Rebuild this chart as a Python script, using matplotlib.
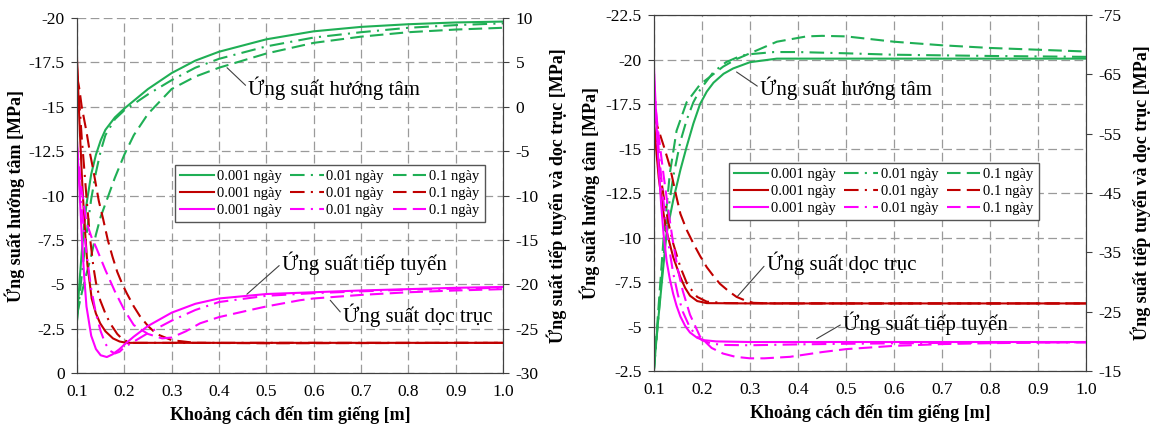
import matplotlib
matplotlib.use("Agg")
import matplotlib.pyplot as plt
from matplotlib.ticker import MultipleLocator, FormatStrFormatter

plt.rcParams['font.family'] = ['Liberation Serif', 'DejaVu Serif']
plt.rcParams['axes.unicode_minus'] = False

# ---------------- data (left panel) ----------------
# radial stress (left axis), green
L_rad_x1 = [0.1, 0.105, 0.11, 0.115, 0.12, 0.13, 0.14, 0.15, 0.16, 0.18, 0.2, 0.25, 0.3, 0.35, 0.4, 0.5, 0.6, 0.7, 0.8, 0.9, 1.0]
L_rad_y1 = [-3.0, -5.0, -6.8, -8.3, -9.5, -11.2, -12.3, -13.1, -13.7, -14.4, -14.9, -16.0, -16.9, -17.6, -18.1, -18.8, -19.25, -19.5, -19.65, -19.75, -19.8]
L_rad_x2 = [0.1, 0.11, 0.12, 0.13, 0.14, 0.15, 0.16, 0.18, 0.2, 0.25, 0.3, 0.35, 0.4, 0.5, 0.6, 0.7, 0.8, 0.9, 1.0]
L_rad_y2 = [-3.0, -5.5, -7.8, -9.8, -11.3, -12.5, -13.4, -14.3, -14.8, -15.7, -16.5, -17.2, -17.7, -18.4, -18.9, -19.2, -19.45, -19.6, -19.7]
L_rad_x3 = [0.1, 0.11, 0.12, 0.13, 0.14, 0.15, 0.163, 0.18, 0.2, 0.22, 0.25, 0.3, 0.35, 0.4, 0.5, 0.6, 0.7, 0.8, 0.9, 1.0]
L_rad_y3 = [-3.3, -4.5, -5.6, -6.6, -7.8, -8.8, -9.75, -11.0, -12.3, -13.4, -14.6, -16.0, -16.7, -17.2, -18.0, -18.6, -18.95, -19.2, -19.35, -19.45]

# axial stress (right axis), red
L_ax_x1 = [0.1, 0.105, 0.11, 0.113, 0.118, 0.122, 0.131, 0.14, 0.149, 0.16, 0.176, 0.19, 0.205, 0.3, 0.5, 0.7, 1.0]
L_ax_y1 = [5.5, -1.5, -7.5, -10.5, -14.8, -17.8, -21.6, -23.3, -24.4, -25.3, -26.1, -26.45, -26.6, -26.6, -26.6, -26.6, -26.6]
L_ax_x2 = [0.1, 0.105, 0.11, 0.115, 0.1205, 0.127, 0.1345, 0.14, 0.149, 0.16, 0.17, 0.185, 0.198, 0.218, 0.3, 0.5, 1.0]
L_ax_y2 = [4.5, 0.5, -3.5, -6.8, -10.5, -14.5, -18.0, -19.8, -21.8, -23.3, -24.4, -25.6, -26.3, -26.6, -26.6, -26.6, -26.6]
L_ax_x3 = [0.1, 0.105, 0.11, 0.12, 0.128, 0.134, 0.146, 0.155, 0.165, 0.175, 0.185, 0.195, 0.205, 0.22, 0.233, 0.25, 0.268, 0.3, 0.35, 0.5, 1.0]
L_ax_y3 = [3.5, 2.0, 0.0, -2.8, -5.4, -7.0, -10.6, -12.6, -15.0, -16.9, -18.6, -19.9, -21.0, -22.5, -23.6, -24.7, -25.6, -26.3, -26.6, -26.65, -26.6]

# tangential stress (right axis), magenta
L_tan_x1 = [0.1, 0.105, 0.11, 0.115, 0.12, 0.13, 0.14, 0.15, 0.163, 0.175, 0.19, 0.2, 0.22, 0.25, 0.3, 0.35, 0.4, 0.5, 0.6, 0.7, 0.8, 0.9, 1.0]
L_tan_y1 = [-3.9, -9.0, -14.5, -19.0, -22.5, -25.8, -27.3, -28.0, -28.2, -27.9, -27.3, -26.8, -25.9, -24.7, -23.2, -22.2, -21.6, -21.1, -20.9, -20.7, -20.55, -20.4, -20.3]
L_tan_x2 = [0.1, 0.11, 0.12, 0.13, 0.14, 0.15, 0.16, 0.17, 0.18, 0.19, 0.2, 0.25, 0.3, 0.35, 0.4, 0.5, 0.6, 0.7, 0.8, 0.9, 1.0]
L_tan_y2 = [-5.0, -11.5, -16.5, -20.5, -23.3, -25.3, -26.7, -27.5, -27.8, -27.6, -27.1, -25.5, -24.1, -22.9, -22.0, -21.3, -21.0, -20.8, -20.6, -20.5, -20.4]
L_tan_x3 = [0.1, 0.11, 0.12, 0.13, 0.14, 0.16, 0.18, 0.2, 0.22, 0.25, 0.28, 0.3, 0.33, 0.36, 0.4, 0.466, 0.5, 0.571, 0.6, 0.7, 0.8, 0.9, 1.0]
L_tan_y3 = [-4.5, -9.5, -13.0, -14.6, -15.8, -18.4, -20.8, -22.9, -24.6, -25.6, -26.1, -26.0, -25.3, -24.4, -23.7, -22.9, -22.5, -21.8, -21.6, -21.2, -20.9, -20.7, -20.55]

# ---------------- data (right panel) ----------------
R_rad_x1 = [0.1, 0.106, 0.116, 0.126, 0.14, 0.155, 0.168, 0.182, 0.196, 0.21, 0.224, 0.245, 0.265, 0.3, 0.356, 0.5, 0.7, 1.0]
R_rad_y1 = [-2.6, -4.6, -7.4, -10.2, -12.1, -13.8, -15.1, -16.4, -17.5, -18.2, -18.7, -19.2, -19.5, -19.85, -20.05, -20.05, -20.05, -20.05]
R_rad_x2 = [0.1, 0.11, 0.12, 0.13, 0.14, 0.155, 0.168, 0.182, 0.196, 0.224, 0.25, 0.28, 0.3, 0.35, 0.4, 0.5, 0.6, 0.8, 1.0]
R_rad_y2 = [-2.6, -5.8, -9.0, -11.6, -13.4, -15.4, -16.6, -17.6, -18.3, -19.3, -19.85, -20.2, -20.3, -20.42, -20.42, -20.35, -20.27, -20.2, -20.15]
R_rad_x3 = [0.1, 0.11, 0.12, 0.133, 0.147, 0.168, 0.196, 0.22, 0.244, 0.27, 0.3, 0.356, 0.418, 0.45, 0.5, 0.6, 0.7, 0.8, 0.9, 1.0]
R_rad_y3 = [-2.6, -6.3, -10.0, -13.6, -16.0, -17.6, -18.6, -19.1, -19.6, -20.0, -20.35, -21.0, -21.3, -21.33, -21.3, -21.0, -20.8, -20.65, -20.55, -20.45]

R_ax_x1 = [0.1, 0.105, 0.11, 0.12, 0.1264, 0.14, 0.154, 0.165, 0.175, 0.19, 0.21, 0.3, 0.5, 0.7, 1.0]
R_ax_y1 = [-57, -52, -47.5, -41.5, -38.5, -34.2, -31.0, -29.0, -27.7, -26.8, -26.45, -26.4, -26.4, -26.4, -26.4]
R_ax_x2 = [0.1, 0.11, 0.12, 0.13, 0.14, 0.155, 0.17, 0.19, 0.21, 0.25, 0.5, 1.0]
R_ax_y2 = [-56, -50, -44.5, -40, -36.5, -32.5, -29.5, -27.5, -26.7, -26.45, -26.4, -26.4]
R_ax_x3 = [0.1, 0.11, 0.12, 0.133, 0.145, 0.155, 0.168, 0.182, 0.196, 0.21, 0.225, 0.2375, 0.255, 0.272, 0.29, 0.307, 0.35, 1.0]
R_ax_y3 = [-58, -55.5, -53, -49.5, -45, -41.5, -38.8, -36.5, -34.4, -32.5, -30.9, -29.7, -28.5, -27.5, -26.9, -26.5, -26.4, -26.4]

R_tan_x1 = [0.1, 0.105, 0.11, 0.115, 0.12, 0.1264, 0.133, 0.14, 0.147, 0.155, 0.165, 0.175, 0.19, 0.205, 0.23, 0.3, 0.5, 0.7, 1.0]
R_tan_y1 = [-66, -57, -49, -43, -38, -33.5, -30.5, -28, -26, -24.2, -22.6, -21.5, -20.6, -20.2, -20.0, -19.9, -19.9, -19.9, -19.9]
R_tan_x2 = [0.1, 0.105, 0.11, 0.12, 0.13, 0.14, 0.15, 0.16, 0.175, 0.19, 0.2, 0.22, 0.25, 0.3, 0.4, 0.5, 0.7, 1.0]
R_tan_y2 = [-64, -58, -52, -43.5, -36.5, -31.5, -27.8, -25, -22.3, -20.8, -20.2, -19.6, -19.4, -19.35, -19.5, -19.6, -19.75, -19.85]
R_tan_x3 = [0.1, 0.105, 0.11, 0.12, 0.13, 0.14, 0.15, 0.16, 0.175, 0.196, 0.22, 0.244, 0.27, 0.3, 0.33, 0.383, 0.45, 0.5, 0.6, 0.7, 0.8, 0.9, 1.0]
R_tan_y3 = [-62, -58, -54.5, -48, -42, -36.5, -32, -28.5, -24.5, -20.8, -18.9, -17.95, -17.4, -17.15, -17.15, -17.4, -18.2, -18.7, -19.25, -19.55, -19.7, -19.8, -19.85]

# tick values
L_left_ticks = [0, -2.5, -5, -7.5, -10, -12.5, -15, -17.5, -20]
L_right_ticks = [-30, -25, -20, -15, -10, -5, 0, 5, 10]
R_left_ticks = [-2.5, -5, -7.5, -10, -12.5, -15, -17.5, -20, -22.5]
R_right_ticks = [-15, -25, -35, -45, -55, -65, -75]
x_ticks = [0.1, 0.2, 0.3, 0.4, 0.5, 0.6, 0.7, 0.8, 0.9, 1.0]

legend_labels = ['0.001 ngày', '0.01 ngày', '0.1 ngày']
xlabel = 'Khoảng cách đến tim giếng [m]'
ylabel_left = 'Ứng suất hướng tâm [MPa]'
ylabel_right = 'Ứng suất tiếp tuyến và dọc trục [MPa]'

GREEN = '#1FAF55'
RED = '#C00000'
MAGENTA = '#FF00FF'
styles = ['-', (0, (7, 3, 1, 3)), (0, (6.5, 3))]
LW = 1.5


def setup_axes(ax, ax2, ylim_l, ticks_l, ylim_r, ticks_r, top_spine):
    ax.set_xlim(0.1, 1.0)
    ax.set_xticks(x_ticks)
    ax.xaxis.set_major_formatter(FormatStrFormatter('%.1f'))
    ax.set_ylim(*ylim_l)
    ax.set_yticks(ticks_l)
    ax.yaxis.set_major_formatter(FormatStrFormatter('%g'))
    ax2.set_ylim(*ylim_r)
    ax2.set_yticks(ticks_r)
    ax2.yaxis.set_major_formatter(FormatStrFormatter('%g'))
    ax.grid(True, color='#9A9A9A', linestyle=(0, (7, 3.5)), linewidth=0.9)
    for a in (ax, ax2):
        for s in a.spines.values():
            s.set_color('#404040')
        a.spines['top'].set_visible(top_spine)
        a.tick_params(labelsize=12.5, length=4, width=0.8, color='#404040', pad=5)
    ax.tick_params(axis='x', length=0, pad=8)
    ax.set_xlabel(xlabel, fontsize=13, fontweight='bold', labelpad=4)
    ax.set_ylabel(ylabel_left, fontsize=13, fontweight='bold')
    ax2.set_ylabel(ylabel_right, fontsize=13, fontweight='bold')


def draw_panel(ax, ax2, rad, axl, tan):
    handles = []
    for color, series, target in ((GREEN, rad, ax), (RED, axl, ax2), (MAGENTA, tan, ax2)):
        row = []
        for (xs, ys), ls in zip(series, styles):
            line, = target.plot(xs, ys, color=color, linestyle=ls, linewidth=LW)
            row.append(line)
        handles.append(row)
    # column-major order for a 3-column legend
    ordered, labels = [], []
    for j in range(3):
        for i in range(3):
            ordered.append(handles[i][j])
            labels.append(legend_labels[j])
    return ordered, labels


def add_legend(ax, h, lab, anchor):
    ax.legend(h, lab, ncol=3, loc='upper left', bbox_to_anchor=anchor, borderaxespad=0,
              fontsize=10.5, frameon=True, fancybox=False, framealpha=1, edgecolor='#555555',
              handlelength=2.3, handletextpad=0.2, columnspacing=0.6, labelspacing=0.25,
              borderpad=0.35)


def note(ax, text, xy, xytext):
    ax.annotate(text, xy=xy, xytext=xytext, fontsize=15, ha='left', va='center',
                arrowprops=dict(arrowstyle='-', color='#404040', lw=0.8,
                                relpos=(0, 0.5), shrinkA=0, shrinkB=0))


fig = plt.figure(figsize=(11.51, 4.29), dpi=100)

# left panel
axL = fig.add_axes([0.0669, 0.1305, 0.3701, 0.8275])
axL2 = axL.twinx()
setup_axes(axL, axL2, (0, -20), L_left_ticks, (-30, 10), L_right_ticks, False)
h, lab = draw_panel(axL, axL2,
                    [(L_rad_x1, L_rad_y1), (L_rad_x2, L_rad_y2), (L_rad_x3, L_rad_y3)],
                    [(L_ax_x1, L_ax_y1), (L_ax_x2, L_ax_y2), (L_ax_x3, L_ax_y3)],
                    [(L_tan_x1, L_tan_y1), (L_tan_x2, L_tan_y2), (L_tan_x3, L_tan_y3)])
add_legend(axL2, h, lab, (0.23, 0.586))
axL.yaxis.set_label_coords(-0.122, 0.5)
axL2.yaxis.set_label_coords(1.103, 0.5)
note(axL, 'Ứng suất hướng tâm', (0.417, -17.2), (0.462, -16.06))
note(axL, 'Ứng suất tiếp tuyến', (0.459, -4.44), (0.533, -6.19))
note(axL, 'Ứng suất dọc trục', (0.635, -4.1), (0.662, -3.26))

# right panel
axR = fig.add_axes([0.5682, 0.135, 0.3753, 0.83])
axR2 = axR.twinx()
setup_axes(axR, axR2, (-2.5, -22.5), R_left_ticks, (-15, -75), R_right_ticks, True)
h, lab = draw_panel(axR, axR2,
                    [(R_rad_x1, R_rad_y1), (R_rad_x2, R_rad_y2), (R_rad_x3, R_rad_y3)],
                    [(R_ax_x1, R_ax_y1), (R_ax_x2, R_ax_y2), (R_ax_x3, R_ax_y3)],
                    [(R_tan_x1, R_tan_y1), (R_tan_x2, R_tan_y2), (R_tan_x3, R_tan_y3)])
add_legend(axR2, h, lab, (0.174, 0.584))
axR.yaxis.set_label_coords(-0.125, 0.5)
axR2.yaxis.set_label_coords(1.102, 0.5)
note(axR, 'Ứng suất hướng tâm', (0.272, -19.3), (0.321, -18.4))
note(axR, 'Ứng suất dọc trục', (0.272, -6.64), (0.335, -8.56))
note(axR, 'Ứng suất tiếp tuyến', (0.439, -4.32), (0.494, -5.18))

fig.savefig('out.png', dpi=100)
